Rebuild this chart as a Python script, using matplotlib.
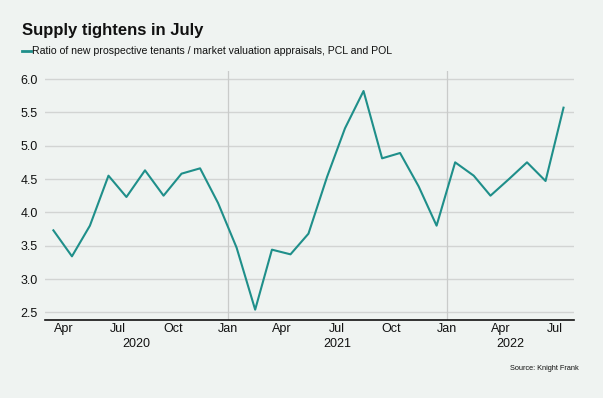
import matplotlib
matplotlib.use("Agg")
import matplotlib.pyplot as plt
import matplotlib.dates as mdates
from datetime import datetime

plt.rcParams['font.family'] = ['Liberation Sans', 'DejaVu Sans']

start_year, start_month = 2020, 3
values = [3.73, 3.34, 3.80, 4.55, 4.23, 4.63, 4.25, 4.58, 4.66, 4.14,
          3.47, 2.54, 3.44, 3.37, 3.68, 4.53, 5.26, 5.82, 4.81, 4.89,
          4.39, 3.80, 4.75, 4.55, 4.25, 4.50, 4.75, 4.47, 5.57]
yticks = [2.5, 3.0, 3.5, 4.0, 4.5, 5.0, 5.5, 6.0]
years = [2020, 2021, 2022]
title = "Supply tightens in July"
series_name = "Ratio of new prospective tenants / market valuation appraisals, PCL and POL"
source = "Source: Knight Frank"

dates = []
y, m = start_year, start_month
for _ in values:
    dates.append(datetime(y, m, 15))
    m += 1
    if m > 12:
        m = 1
        y += 1

bg = '#eff3f1'
teal = '#1f8f8a'
W, H = 603, 398
fig = plt.figure(figsize=(W / 100, H / 100), dpi=100, facecolor=bg)
ax = fig.add_axes([45 / W, 1 - 320 / H, (573.7 - 45) / W, (320 - 71) / H])
ax.set_facecolor(bg)

xmin = datetime(2020, 3, 1)
xmax = datetime(2022, 8, 1)
ax.set_xlim(xmin, xmax)
ax.set_ylim(2.385, 6.12)

for v in yticks:
    ax.axhline(v, color='#d2d4d3', lw=1.0, zorder=1)
for yr in years[1:]:
    ax.axvline(datetime(yr, 1, 1), color='#c9cbca', lw=0.9, zorder=1)

ax.plot(dates, values, color=teal, lw=1.5, zorder=3)

ax.set_yticks(yticks)
ax.set_yticklabels([f"{v:.1f}" for v in yticks])
ax.xaxis.set_major_locator(mdates.MonthLocator(bymonth=[1, 4, 7, 10]))
ax.xaxis.set_major_formatter(mdates.DateFormatter('%b'))
ax.tick_params(axis='both', length=0, labelsize=9, colors='#111111')
ax.tick_params(axis='x', pad=2.5)
ax.tick_params(axis='y', pad=5)

for s in ['top', 'right', 'left']:
    ax.spines[s].set_visible(False)
ax.spines['bottom'].set_color('#111111')
ax.spines['bottom'].set_linewidth(1.2)

# year labels centred on visible portion of each year
for yr in years:
    a = max(datetime(yr, 1, 1), xmin)
    b = min(datetime(yr + 1, 1, 1), xmax)
    mid = mdates.num2date((mdates.date2num(a) + mdates.date2num(b)) / 2).replace(tzinfo=None)
    ax.annotate(str(yr), xy=(mid, 0), xycoords=('data', 'axes fraction'),
                xytext=(0, -17.5), textcoords='offset points', ha='center', va='center',
                fontsize=9, color='#111111')

fig.text(22.5 / W, 1 - 30 / H, title, fontsize=12, fontweight='bold', va='center', ha='left', color='#111111')
fig.add_artist(plt.Line2D([22.5 / W, 30.5 / W], [1 - 50.7 / H, 1 - 50.7 / H], color=teal, lw=2))
fig.text(32 / W, 1 - 51 / H, series_name, fontsize=7.6, va='center', ha='left', color='#111111')
fig.text(579 / W, 1 - 368 / H, source, fontsize=5.3, va='center', ha='right', color='#111111')

fig.savefig('out.png', dpi=100, facecolor=bg)
